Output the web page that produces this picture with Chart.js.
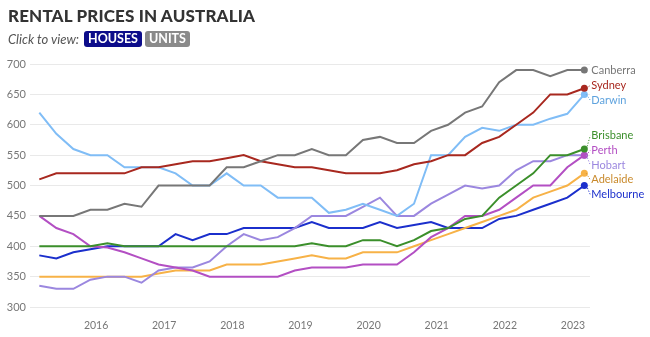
<!DOCTYPE html>
<html lang="en">
<head>
<meta charset="UTF-8">
<title>Rental prices in Australia</title>
<style>
  body { margin: 0; padding: 0; background: #fff; font-family: Lato, Arial, sans-serif; }
  .wrap { position: relative; width: 650px; height: 337px; overflow: hidden; }
  .title { position: absolute; left: 8px; top: 5px; font-size: 17px; font-weight: 900; color: #333; letter-spacing: 0.15px; }
  .sub { position: absolute; left: 8px; top: 31px; display: flex; align-items: center; gap: 3px; font-size: 13px; font-style: italic; color: #555; }
  .btn { font-style: normal; font-weight: 700; color: #fff; font-size: 12.5px; line-height: 16px; padding: 0 4px; border-radius: 3px; }
  .houses { background: #0c0c8a; margin-left: 2px; }
  .units { background: #8a8a8a; }
  .chart-box { position: absolute; left: 0; top: 0; width: 650px; height: 337px; }
</style>
</head>
<body>
<div class="wrap">
  <div class="chart-box"><canvas id="rent"></canvas></div>
  <div class="title">RENTAL PRICES IN AUSTRALIA</div>
  <div class="sub">Click to view: <span class="btn houses">HOUSES</span><span class="btn units">UNITS</span></div>
</div>

<script src="https://cdn.jsdelivr.net/npm/chart.js"></script>
<script>
  // quarterly median weekly rents, houses
  const quarters = [
    'Mar 2015', 'Jun 2015', 'Sep 2015', 'Dec 2015',
    'Mar 2016', 'Jun 2016', 'Sep 2016', 'Dec 2016',
    'Mar 2017', 'Jun 2017', 'Sep 2017', 'Dec 2017',
    'Mar 2018', 'Jun 2018', 'Sep 2018', 'Dec 2018',
    'Mar 2019', 'Jun 2019', 'Sep 2019', 'Dec 2019',
    'Mar 2020', 'Jun 2020', 'Sep 2020', 'Dec 2020',
    'Mar 2021', 'Jun 2021', 'Sep 2021', 'Dec 2021',
    'Mar 2022', 'Jun 2022', 'Sep 2022', 'Dec 2022',
    'Mar 2023'
  ];
  const yearTicks = [2016, 2017, 2018, 2019, 2020, 2021, 2022, 2023];
  const yTicks = [300, 350, 400, 450, 500, 550, 600, 650, 700];

  const canberra  = [450, 450, 450, 460, 460, 470, 465, 500, 500, 500, 500, 530, 530, 540, 550, 550, 560, 550, 550, 575, 580, 570, 570, 590, 600, 620, 630, 670, 690, 690, 680, 690, 690];
  const sydney    = [510, 520, 520, 520, 520, 520, 530, 530, 535, 540, 540, 545, 550, 540, 535, 530, 530, 525, 520, 520, 520, 525, 535, 540, 550, 550, 570, 580, 600, 620, 650, 650, 660];
  const darwin    = [620, 585, 560, 550, 550, 530, 530, 530, 520, 500, 500, 520, 500, 500, 480, 480, 480, 455, 460, 470, 460, 450, 470, 550, 550, 580, 595, 590, 600, 600, 610, 618, 650];
  const brisbane  = [400, 400, 400, 400, 405, 400, 400, 400, 400, 400, 400, 400, 400, 400, 400, 400, 405, 400, 400, 410, 410, 400, 410, 425, 430, 445, 450, 480, 500, 520, 550, 550, 560];
  const perth     = [450, 430, 420, 400, 398, 390, 380, 370, 365, 360, 350, 350, 350, 350, 350, 360, 365, 365, 365, 370, 370, 370, 390, 415, 430, 450, 450, 460, 480, 500, 500, 530, 550];
  const hobart    = [335, 330, 330, 345, 350, 350, 340, 360, 365, 365, 375, 400, 420, 410, 415, 430, 450, 450, 450, 465, 480, 450, 450, 470, 485, 500, 495, 500, 525, 540, 540, 550, 550];
  const adelaide  = [350, 350, 350, 350, 350, 350, 350, 355, 360, 360, 360, 370, 370, 370, 375, 380, 385, 380, 380, 390, 390, 390, 400, 410, 420, 430, 440, 450, 460, 480, 490, 500, 520];
  const melbourne = [385, 380, 390, 395, 400, 400, 400, 400, 420, 410, 420, 420, 430, 430, 430, 430, 440, 430, 430, 430, 440, 430, 435, 440, 430, 430, 430, 445, 450, 460, 470, 480, 500];

  const cities = ['Canberra', 'Sydney', 'Darwin', 'Brisbane', 'Perth', 'Hobart', 'Adelaide', 'Melbourne'];
  const series = [canberra, sydney, darwin, brisbane, perth, hobart, adelaide, melbourne];
  const lineColors  = ['#777777', '#a8281f', '#80bdf6', '#3b8f2b', '#b34fc3', '#9b87df', '#f7b247', '#1b2fcc'];
  const labelColors = ['#777777', '#a8281f', '#5fa3de', '#3b8f2b', '#b34fc3', '#9b87df', '#c98a2c', '#1b2fcc'];

  const monthNum = { Mar: 2, Jun: 5, Sep: 8, Dec: 11 };
  function quarterToYear(q) {
    const [m, y] = q.split(' ');
    return Number(y) + monthNum[m] / 12;
  }

  // city names at the end of each line, spread apart so they don't overlap
  const endLabels = {
    id: 'endLabels',
    afterDatasetsDraw(chart) {
      const ctx = chart.ctx;
      const gap = 14.8;
      const items = chart.data.datasets.map((ds, i) => {
        const pts = chart.getDatasetMeta(i).data;
        const p = pts[pts.length - 1];
        return { text: ds.label, color: labelColors[i], x: p.x, y: p.y, ly: p.y };
      });
      const sorted = items.slice().sort((a, b) => a.y - b.y);
      let groups = sorted.map(it => ({ items: [it], top: it.y }));
      let merged = true;
      while (merged) {
        merged = false;
        for (let i = 0; i < groups.length - 1; i++) {
          const a = groups[i], b = groups[i + 1];
          const aBottom = a.top + (a.items.length - 1) * gap;
          if (b.top - aBottom < gap) {
            const all = a.items.concat(b.items);
            const mean = all.reduce((s, t) => s + t.y, 0) / all.length;
            groups.splice(i, 2, { items: all, top: mean - (all.length - 1) * gap / 2 + 1.5 });
            merged = true;
            break;
          }
        }
      }
      groups.forEach(g => g.items.forEach((it, k) => { it.ly = g.top + k * gap; }));

      ctx.save();
      ctx.font = '11px Lato, Arial, sans-serif';
      ctx.textBaseline = 'middle';
      ctx.textAlign = 'left';
      items.forEach(it => {
        const lx = it.x + 7;
        if (Math.abs(it.ly - it.y) > 2) {
          ctx.beginPath();
          ctx.setLineDash([1.2, 1.6]);
          ctx.strokeStyle = it.color;
          ctx.lineWidth = 1;
          ctx.moveTo(it.x + 2, it.y);
          ctx.lineTo(lx - 1, it.ly);
          ctx.stroke();
          ctx.setLineDash([]);
        }
        ctx.fillStyle = it.color;
        ctx.fillText(it.text, lx, it.ly);
      });
      ctx.restore();
    }
  };

  const datasets = cities.map((name, i) => ({
    label: name,
    data: series[i].map((v, k) => ({ x: quarterToYear(quarters[k]), y: v })),
    borderColor: lineColors[i],
    backgroundColor: lineColors[i],
    borderWidth: 2,
    tension: 0,
    pointRadius: c => (c.dataIndex === quarters.length - 1 ? 3.5 : 0),
    pointHoverRadius: c => (c.dataIndex === quarters.length - 1 ? 3.5 : 0),
    pointBorderWidth: 0,
    pointBackgroundColor: lineColors[i]
  }));

  new Chart(document.getElementById('rent'), {
    type: 'line',
    data: { datasets },
    plugins: [endLabels],
    options: {
      responsive: true,
      maintainAspectRatio: false,
      animation: false,
      events: [],
      layout: { padding: { top: 64, right: 60, bottom: 0, left: 0 } },
      plugins: { legend: { display: false }, tooltip: { enabled: false } },
      scales: {
        x: {
          type: 'linear',
          min: 2015.03,
          max: 2023.25,
          grid: { display: false },
          border: { display: false },
          afterBuildTicks: s => { s.ticks = yearTicks.map(v => ({ value: v })); },
          afterFit: s => { s.height = 30; },
          ticks: {
            padding: 4,
            maxRotation: 0,
            color: '#777',
            font: { family: 'Lato, Arial, sans-serif', size: 10.5 },
            callback: v => String(v)
          }
        },
        y: {
          min: 300,
          max: 700,
          afterBuildTicks: s => { s.ticks = yTicks.map(v => ({ value: v })); },
          afterFit: s => { s.width = 30; },
          grid: { color: '#e9e9e9', lineWidth: 1, drawTicks: false },
          border: { display: false },
          ticks: {
            padding: 4,
            color: '#777',
            font: { family: 'Lato, Arial, sans-serif', size: 11 }
          }
        }
      }
    }
  });
</script>
</body>
</html>
